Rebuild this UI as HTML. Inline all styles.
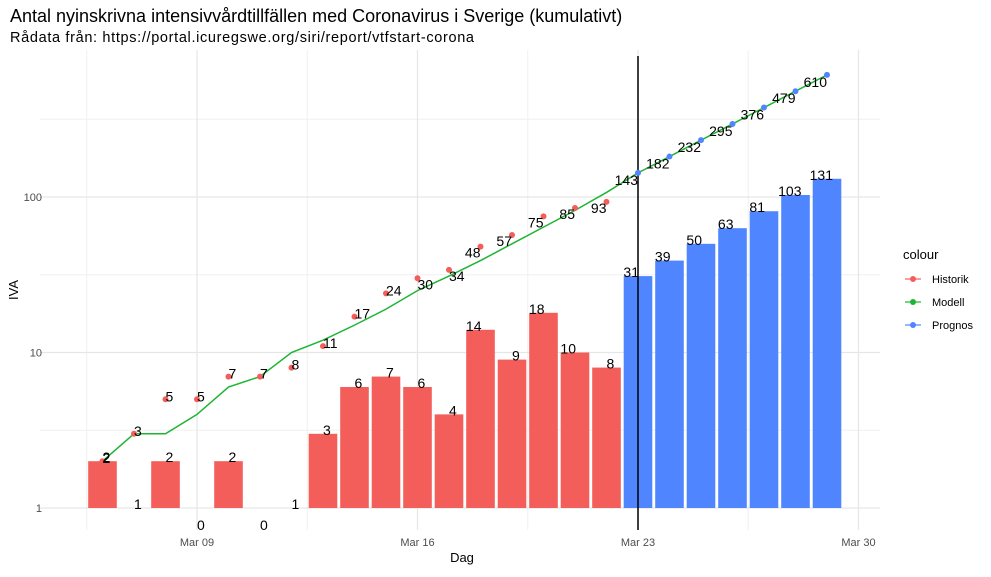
<!DOCTYPE html>
<html><head><meta charset="utf-8"><style>
body{margin:0;background:#fff;font-family:"Liberation Sans",sans-serif}
svg text{font-family:"Liberation Sans",sans-serif}
</style></head><body>
<svg id="chart" width="991" height="572" viewBox="0 0 991 572">
<text x="10" y="22" font-size="18" fill="#000">Antal nyinskrivna intensivvårdtillfällen med Coronavirus i Sverige (kumulativt)</text>
<text x="10" y="42" font-size="14.5" fill="#000" textLength="464" lengthAdjust="spacing">Rådata från: https://portal.icuregswe.org/siri/report/vtfstart-corona</text>
<g id="grid"></g><g id="bars"></g><g id="lines"></g><g id="pts"></g><g id="labels"></g>
<text x="462" y="562" font-size="13" text-anchor="middle">Dag</text>
<text transform="translate(18,290) rotate(-90)" font-size="13" text-anchor="middle">IVA</text>
<g>
<text x="903" y="259" font-size="13">colour</text>
<g><line x1="905" y1="279" x2="921" y2="279" stroke="#F35E5A" stroke-width="1.2"/><circle cx="913" cy="279" r="3" fill="#F35E5A"/><text x="932" y="283" font-size="11">Historik</text></g>
<g><line x1="905" y1="302" x2="921" y2="302" stroke="#1DB532" stroke-width="1.2"/><circle cx="913" cy="302" r="3" fill="#1DB532"/><text x="932" y="306" font-size="11">Modell</text></g>
<g><line x1="905" y1="325" x2="921" y2="325" stroke="#4F86FF" stroke-width="1.2"/><circle cx="913" cy="325" r="3" fill="#4F86FF"/><text x="932" y="329" font-size="11">Prognos</text></g>
</g>
</svg>
<script>
const NS="http://www.w3.org/2000/svg";
const dailyHist=[2,1,2,0,2,0,1,3,6,7,6,4,14,9,18,10,8];
const dailyProg=[31,39,50,63,81,103,131];
const cumHist=[2,3,5,5,7,7,8,11,17,24,30,34,48,57,75,85,93];
const cumProg=[143,182,232,295,376,479,610];
const model=[2,3,3,4,6,7,10,12,15,19,25,31,39,50,64,82,107,143,182,232,295,376,479,610];
const xTicks=["Mar 09","Mar 16","Mar 23","Mar 30"];
const xTickDays=[9,16,23,30];
const yTicks=[1,10,100];
const startDay=6;
const X=d=>197+(d-9)*31.5;
const Y=v=>508-155.5*Math.log10(v);
function mk(tag,attrs,parent){const e=document.createElementNS(NS,tag);for(const k in attrs)e.setAttribute(k,attrs[k]);document.getElementById(parent).appendChild(e);return e;}
[0.5,1.5,2.5].forEach(l=>{const e=mk('line',{x1:40,x2:880,y1:Y(Math.pow(10,l)),y2:Y(Math.pow(10,l)),stroke:'#f0f0f0','stroke-width':1},'grid');

});
[5.5,12.5,19.5,26.5].forEach(d=>{const e=mk('line',{x1:X(d),x2:X(d),y1:50,y2:530,stroke:'#f0f0f0','stroke-width':1},'grid');

});
yTicks.forEach(v=>{const e=mk('line',{x1:40,x2:880,y1:Y(v),y2:Y(v),stroke:'#e6e6e6','stroke-width':1.2},'grid');


const t=mk('text',{x:42,y:Y(v)+4,'font-size':11,fill:'#4d4d4d','text-anchor':'end'},'grid');t.textContent=v;

});
xTickDays.forEach((d,i)=>{const e=mk('line',{x1:X(d),x2:X(d),y1:50,y2:530,stroke:'#e6e6e6','stroke-width':1.2},'grid');


const t=mk('text',{x:X(d),y:546,'font-size':11,fill:'#4d4d4d','text-anchor':'middle'},'grid');t.textContent=xTicks[i];

});
function bar(d,v,col){
  if(v>=1){const r=mk('rect',{x:X(d)-14.3,y:Y(v),width:28.6,height:508-Y(v),fill:col},'bars');
  
  }
  const ly=v>0?Y(v)+1:530;
  const n=String(v).length;
  const attrs=n===1?{x:X(d),'text-anchor':'start'}:(n===2?{x:X(d)+1,'text-anchor':'end'}:{x:X(d)+6,'text-anchor':'end'});
  attrs.y=ly;attrs['font-size']=14;attrs.fill='#000';
  const t=mk('text',attrs,'labels');t.textContent=v;
  
  
}
dailyHist.forEach((v,i)=>bar(startDay+i,v,'#F35E5A'));
dailyProg.forEach((v,i)=>bar(startDay+dailyHist.length+i,v,'#4F86FF'));
const vl=mk('line',{x1:X(23),x2:X(23),y1:56,y2:530,stroke:'#000','stroke-width':1.5},'lines');


const p=mk('polyline',{points:model.map((v,i)=>X(startDay+i)+','+Y(v)).join(' '),fill:'none',stroke:'#1DB532','stroke-width':1.5},'lines');


cumHist.forEach((v,i)=>{const d=startDay+i;const c=mk('circle',{cx:X(d),cy:Y(v),r:3,fill:'#F35E5A'},'pts');


const dy=i<10?2:11;
const t=mk('text',{x:X(d),y:Y(v)+dy,'font-size':14,'text-anchor':i<12?'start':'end'},'labels');t.textContent=v;

});
cumProg.forEach((v,i)=>{const d=23+i;const c=mk('circle',{cx:X(d),cy:Y(v),r:3,fill:'#4F86FF'},'pts');


const t=mk('text',{x:X(d),y:Y(v)+12,'font-size':14,'text-anchor':'end'},'labels');t.textContent=v;

});
</script>
</body></html>
